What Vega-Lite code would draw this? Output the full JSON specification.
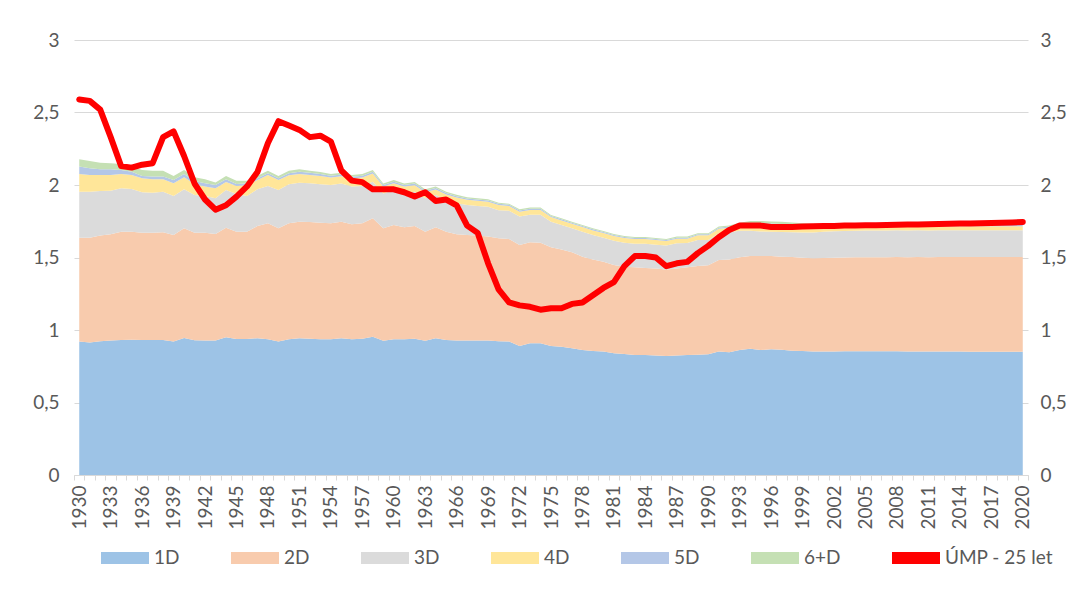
{
  "$schema": "https://vega.github.io/schema/vega-lite/v6.json",
  "width": 954,
  "height": 435,
  "autosize": {"type": "none"},
  "padding": {"left": 74, "top": 40, "right": 51, "bottom": 127},
  "background": "white",
  "config": {"font": "Lato", "view": {"stroke": null}},
  "data": {"values": [
    {"year":1930,"1D":0.920,"2D":0.717,"3D":0.317,"4D":0.122,"5D":0.051,"6+D":0.050,"ump":2.59},
    {"year":1931,"1D":0.913,"2D":0.724,"3D":0.317,"4D":0.115,"5D":0.046,"6+D":0.051,"ump":2.58},
    {"year":1932,"1D":0.922,"2D":0.729,"3D":0.308,"4D":0.110,"5D":0.039,"6+D":0.046,"ump":2.52},
    {"year":1933,"1D":0.927,"2D":0.733,"3D":0.301,"4D":0.108,"5D":0.039,"6+D":0.042,"ump":2.33},
    {"year":1934,"1D":0.931,"2D":0.747,"3D":0.299,"4D":0.099,"5D":0.028,"6+D":0.041,"ump":2.13},
    {"year":1935,"1D":0.933,"2D":0.745,"3D":0.294,"4D":0.097,"5D":0.023,"6+D":0.035,"ump":2.12},
    {"year":1936,"1D":0.931,"2D":0.740,"3D":0.279,"4D":0.096,"5D":0.016,"6+D":0.042,"ump":2.14},
    {"year":1937,"1D":0.931,"2D":0.740,"3D":0.276,"4D":0.092,"5D":0.019,"6+D":0.041,"ump":2.15},
    {"year":1938,"1D":0.931,"2D":0.743,"3D":0.280,"4D":0.085,"5D":0.019,"6+D":0.041,"ump":2.33},
    {"year":1939,"1D":0.920,"2D":0.735,"3D":0.269,"4D":0.088,"5D":0.023,"6+D":0.027,"ump":2.37},
    {"year":1940,"1D":0.945,"2D":0.756,"3D":0.269,"4D":0.083,"5D":0.023,"6+D":0.028,"ump":2.20},
    {"year":1941,"1D":0.929,"2D":0.742,"3D":0.260,"4D":0.076,"5D":0.021,"6+D":0.025,"ump":2.01},
    {"year":1942,"1D":0.927,"2D":0.744,"3D":0.253,"4D":0.065,"5D":0.023,"6+D":0.027,"ump":1.90},
    {"year":1943,"1D":0.927,"2D":0.735,"3D":0.246,"4D":0.069,"5D":0.023,"6+D":0.018,"ump":1.83},
    {"year":1944,"1D":0.950,"2D":0.756,"3D":0.260,"4D":0.055,"5D":0.018,"6+D":0.023,"ump":1.86},
    {"year":1945,"1D":0.938,"2D":0.740,"3D":0.260,"4D":0.055,"5D":0.014,"6+D":0.023,"ump":1.92},
    {"year":1946,"1D":0.938,"2D":0.740,"3D":0.246,"4D":0.076,"5D":0.012,"6+D":0.018,"ump":1.99},
    {"year":1947,"1D":0.943,"2D":0.774,"3D":0.253,"4D":0.065,"5D":0.011,"6+D":0.018,"ump":2.09},
    {"year":1948,"1D":0.936,"2D":0.800,"3D":0.257,"4D":0.076,"5D":0.012,"6+D":0.018,"ump":2.29},
    {"year":1949,"1D":0.920,"2D":0.781,"3D":0.265,"4D":0.069,"5D":0.011,"6+D":0.016,"ump":2.44},
    {"year":1950,"1D":0.936,"2D":0.800,"3D":0.269,"4D":0.062,"5D":0.014,"6+D":0.018,"ump":2.41},
    {"year":1951,"1D":0.943,"2D":0.804,"3D":0.269,"4D":0.060,"5D":0.016,"6+D":0.016,"ump":2.38},
    {"year":1952,"1D":0.940,"2D":0.805,"3D":0.267,"4D":0.057,"5D":0.016,"6+D":0.014,"ump":2.33},
    {"year":1953,"1D":0.936,"2D":0.804,"3D":0.265,"4D":0.057,"5D":0.014,"6+D":0.014,"ump":2.34},
    {"year":1954,"1D":0.936,"2D":0.800,"3D":0.264,"4D":0.052,"5D":0.012,"6+D":0.012,"ump":2.30},
    {"year":1955,"1D":0.943,"2D":0.804,"3D":0.264,"4D":0.050,"5D":0.012,"6+D":0.012,"ump":2.10},
    {"year":1956,"1D":0.936,"2D":0.793,"3D":0.260,"4D":0.056,"5D":0.012,"6+D":0.012,"ump":2.03},
    {"year":1957,"1D":0.940,"2D":0.796,"3D":0.257,"4D":0.059,"5D":0.012,"6+D":0.012,"ump":2.02},
    {"year":1958,"1D":0.954,"2D":0.816,"3D":0.253,"4D":0.056,"5D":0.012,"6+D":0.012,"ump":1.97},
    {"year":1959,"1D":0.926,"2D":0.775,"3D":0.241,"4D":0.047,"5D":0.011,"6+D":0.011,"ump":1.97},
    {"year":1960,"1D":0.936,"2D":0.788,"3D":0.242,"4D":0.046,"5D":0.011,"6+D":0.011,"ump":1.97},
    {"year":1961,"1D":0.936,"2D":0.772,"3D":0.234,"4D":0.047,"5D":0.011,"6+D":0.011,"ump":1.95},
    {"year":1962,"1D":0.940,"2D":0.777,"3D":0.237,"4D":0.045,"5D":0.011,"6+D":0.011,"ump":1.92},
    {"year":1963,"1D":0.926,"2D":0.752,"3D":0.230,"4D":0.042,"5D":0.010,"6+D":0.010,"ump":1.95},
    {"year":1964,"1D":0.943,"2D":0.765,"3D":0.223,"4D":0.038,"5D":0.010,"6+D":0.010,"ump":1.89},
    {"year":1965,"1D":0.931,"2D":0.747,"3D":0.219,"4D":0.037,"5D":0.010,"6+D":0.010,"ump":1.90},
    {"year":1966,"1D":0.927,"2D":0.733,"3D":0.214,"4D":0.040,"5D":0.009,"6+D":0.009,"ump":1.86},
    {"year":1967,"1D":0.927,"2D":0.728,"3D":0.207,"4D":0.036,"5D":0.009,"6+D":0.008,"ump":1.72},
    {"year":1968,"1D":0.927,"2D":0.724,"3D":0.205,"4D":0.036,"5D":0.008,"6+D":0.008,"ump":1.67},
    {"year":1969,"1D":0.927,"2D":0.717,"3D":0.206,"4D":0.035,"5D":0.008,"6+D":0.008,"ump":1.46},
    {"year":1970,"1D":0.922,"2D":0.710,"3D":0.194,"4D":0.036,"5D":0.008,"6+D":0.008,"ump":1.28},
    {"year":1971,"1D":0.920,"2D":0.708,"3D":0.194,"4D":0.033,"5D":0.008,"6+D":0.008,"ump":1.19},
    {"year":1972,"1D":0.890,"2D":0.696,"3D":0.197,"4D":0.033,"5D":0.008,"6+D":0.008,"ump":1.17},
    {"year":1973,"1D":0.908,"2D":0.697,"3D":0.190,"4D":0.033,"5D":0.008,"6+D":0.008,"ump":1.16},
    {"year":1974,"1D":0.908,"2D":0.694,"3D":0.193,"4D":0.033,"5D":0.008,"6+D":0.008,"ump":1.14},
    {"year":1975,"1D":0.890,"2D":0.680,"3D":0.177,"4D":0.032,"5D":0.007,"6+D":0.007,"ump":1.15},
    {"year":1976,"1D":0.885,"2D":0.671,"3D":0.168,"4D":0.032,"5D":0.007,"6+D":0.007,"ump":1.15},
    {"year":1977,"1D":0.874,"2D":0.663,"3D":0.164,"4D":0.032,"5D":0.007,"6+D":0.007,"ump":1.18},
    {"year":1978,"1D":0.862,"2D":0.644,"3D":0.172,"4D":0.032,"5D":0.007,"6+D":0.007,"ump":1.19},
    {"year":1979,"1D":0.855,"2D":0.632,"3D":0.168,"4D":0.032,"5D":0.007,"6+D":0.007,"ump":1.24},
    {"year":1980,"1D":0.851,"2D":0.620,"3D":0.166,"4D":0.032,"5D":0.007,"6+D":0.007,"ump":1.29},
    {"year":1981,"1D":0.839,"2D":0.609,"3D":0.168,"4D":0.032,"5D":0.007,"6+D":0.007,"ump":1.33},
    {"year":1982,"1D":0.834,"2D":0.603,"3D":0.165,"4D":0.032,"5D":0.007,"6+D":0.007,"ump":1.44},
    {"year":1983,"1D":0.828,"2D":0.604,"3D":0.163,"4D":0.032,"5D":0.007,"6+D":0.007,"ump":1.51},
    {"year":1984,"1D":0.828,"2D":0.600,"3D":0.167,"4D":0.032,"5D":0.007,"6+D":0.007,"ump":1.51},
    {"year":1985,"1D":0.825,"2D":0.600,"3D":0.163,"4D":0.032,"5D":0.007,"6+D":0.007,"ump":1.50},
    {"year":1986,"1D":0.821,"2D":0.597,"3D":0.164,"4D":0.032,"5D":0.007,"6+D":0.007,"ump":1.44},
    {"year":1987,"1D":0.825,"2D":0.600,"3D":0.173,"4D":0.032,"5D":0.007,"6+D":0.007,"ump":1.46},
    {"year":1988,"1D":0.828,"2D":0.604,"3D":0.168,"4D":0.030,"5D":0.007,"6+D":0.007,"ump":1.47},
    {"year":1989,"1D":0.830,"2D":0.611,"3D":0.179,"4D":0.033,"5D":0.007,"6+D":0.007,"ump":1.53},
    {"year":1990,"1D":0.832,"2D":0.614,"3D":0.174,"4D":0.033,"5D":0.007,"6+D":0.007,"ump":1.58},
    {"year":1991,"1D":0.851,"2D":0.632,"3D":0.182,"4D":0.034,"5D":0.007,"6+D":0.007,"ump":1.64},
    {"year":1992,"1D":0.846,"2D":0.641,"3D":0.188,"4D":0.031,"5D":0.007,"6+D":0.007,"ump":1.69},
    {"year":1993,"1D":0.862,"2D":0.639,"3D":0.184,"4D":0.035,"5D":0.010,"6+D":0.010,"ump":1.72},
    {"year":1994,"1D":0.871,"2D":0.639,"3D":0.175,"4D":0.039,"5D":0.013,"6+D":0.015,"ump":1.72},
    {"year":1995,"1D":0.862,"2D":0.648,"3D":0.170,"4D":0.044,"5D":0.013,"6+D":0.015,"ump":1.72},
    {"year":1996,"1D":0.867,"2D":0.643,"3D":0.168,"4D":0.043,"5D":0.013,"6+D":0.015,"ump":1.71},
    {"year":1997,"1D":0.864,"2D":0.642,"3D":0.170,"4D":0.042,"5D":0.013,"6+D":0.015,"ump":1.71},
    {"year":1998,"1D":0.857,"2D":0.646,"3D":0.171,"4D":0.040,"5D":0.014,"6+D":0.014,"ump":1.71},
    {"year":1999,"1D":0.855,"2D":0.644,"3D":0.174,"4D":0.038,"5D":0.013,"6+D":0.013,"ump":1.713},
    {"year":2000,"1D":0.851,"2D":0.643,"3D":0.178,"4D":0.036,"5D":0.012,"6+D":0.012,"ump":1.715},
    {"year":2001,"1D":0.851,"2D":0.646,"3D":0.180,"4D":0.034,"5D":0.011,"6+D":0.011,"ump":1.717},
    {"year":2002,"1D":0.852,"2D":0.647,"3D":0.182,"4D":0.033,"5D":0.010,"6+D":0.010,"ump":1.718},
    {"year":2003,"1D":0.853,"2D":0.647,"3D":0.183,"4D":0.032,"5D":0.010,"6+D":0.010,"ump":1.720},
    {"year":2004,"1D":0.853,"2D":0.648,"3D":0.184,"4D":0.031,"5D":0.009,"6+D":0.009,"ump":1.721},
    {"year":2005,"1D":0.853,"2D":0.648,"3D":0.185,"4D":0.030,"5D":0.009,"6+D":0.009,"ump":1.722},
    {"year":2006,"1D":0.853,"2D":0.649,"3D":0.185,"4D":0.029,"5D":0.008,"6+D":0.008,"ump":1.723},
    {"year":2007,"1D":0.853,"2D":0.649,"3D":0.185,"4D":0.029,"5D":0.008,"6+D":0.008,"ump":1.724},
    {"year":2008,"1D":0.853,"2D":0.650,"3D":0.185,"4D":0.029,"5D":0.008,"6+D":0.008,"ump":1.726},
    {"year":2009,"1D":0.852,"2D":0.650,"3D":0.185,"4D":0.029,"5D":0.008,"6+D":0.008,"ump":1.727},
    {"year":2010,"1D":0.852,"2D":0.651,"3D":0.185,"4D":0.028,"5D":0.008,"6+D":0.008,"ump":1.728},
    {"year":2011,"1D":0.851,"2D":0.651,"3D":0.185,"4D":0.028,"5D":0.008,"6+D":0.008,"ump":1.730},
    {"year":2012,"1D":0.851,"2D":0.652,"3D":0.185,"4D":0.028,"5D":0.008,"6+D":0.008,"ump":1.731},
    {"year":2013,"1D":0.851,"2D":0.652,"3D":0.185,"4D":0.028,"5D":0.008,"6+D":0.008,"ump":1.732},
    {"year":2014,"1D":0.851,"2D":0.652,"3D":0.185,"4D":0.028,"5D":0.008,"6+D":0.008,"ump":1.734},
    {"year":2015,"1D":0.850,"2D":0.653,"3D":0.185,"4D":0.028,"5D":0.008,"6+D":0.008,"ump":1.735},
    {"year":2016,"1D":0.850,"2D":0.653,"3D":0.185,"4D":0.028,"5D":0.008,"6+D":0.008,"ump":1.737},
    {"year":2017,"1D":0.850,"2D":0.653,"3D":0.185,"4D":0.028,"5D":0.008,"6+D":0.008,"ump":1.738},
    {"year":2018,"1D":0.850,"2D":0.653,"3D":0.185,"4D":0.028,"5D":0.008,"6+D":0.008,"ump":1.740},
    {"year":2019,"1D":0.850,"2D":0.653,"3D":0.185,"4D":0.028,"5D":0.008,"6+D":0.008,"ump":1.742},
    {"year":2020,"1D":0.850,"2D":0.653,"3D":0.185,"4D":0.028,"5D":0.008,"6+D":0.008,"ump":1.745}
  ]},
  "layer": [
    {
      "transform": [{"fold": ["1D","2D","3D","4D","5D","6+D"], "as": ["cat","v"]}],
      "mark": {"type": "area", "opacity": 1},
      "encoding": {
        "x": {
          "field": "year", "type": "ordinal", "bandPosition": 0.5,
          "scale": {"type": "band", "paddingInner": 0, "paddingOuter": 0},
          "axis": {
            "title": null, "tickBand": "extent", "labelAngle": -90, "labelOverlap": false,
            "labelExpr": "(datum.value - 1930) % 3 == 0 ? datum.label : ''",
            "labelFontSize": 19, "labelColor": "#595959", "labelPadding": 5,
            "tickColor": "#D9D9D9", "tickSize": 5, "domainColor": "#D9D9D9", "grid": false
          }
        },
        "y": {
          "field": "v", "type": "quantitative", "stack": "zero",
          "scale": {"domain": [0, 3], "nice": false},
          "axis": {
            "title": null, "values": [0, 0.5, 1, 1.5, 2, 2.5, 3],
            "labelExpr": "replace(format(datum.value, '~g'), '.', ',')",
            "domain": false, "ticks": false, "grid": true, "gridColor": "#D9D9D9",
            "labelPadding": 15, "labelFontSize": 19, "labelColor": "#595959"
          }
        },
        "order": {"field": "cat", "sort": "ascending"},
        "color": {
          "field": "cat", "type": "nominal",
          "scale": {
            "domain": ["1D","2D","3D","4D","5D","6+D","ÚMP - 25 let"],
            "range": ["#9DC3E6","#F8CBAD","#DBDBDB","#FFE699","#B4C7E7","#C5E0B4","#FF0000"]
          },
          "legend": {
            "orient": "none", "legendX": 27, "legendY": 494, "direction": "horizontal",
            "columns": 7, "columnPadding": 51, "title": null,
            "labelFontSize": 19, "labelColor": "#595959", "labelOffset": 5,
            "symbolSize": 2304, "symbolType": "M-1,-0.25H1V0.25H-1Z", "symbolStrokeWidth": 0,
            "encode": {
              "symbols": {
                "update": {
                  "shape": {"signal": "datum.value == 'ÚMP - 25 let' ? 'M-1,-0.12H1V0.12H-1Z' : 'M-1,-0.25H1V0.25H-1Z'"},
                  "fill": {"scale": "color", "field": "value"},
                  "stroke": {"value": "transparent"},
                  "opacity": {"value": 1}
                }
              }
            }
          }
        }
      }
    },
    {
      "mark": {"type": "line", "strokeWidth": 6, "strokeJoin": "round", "strokeCap": "round"},
      "encoding": {
        "x": {"field": "year", "type": "ordinal", "bandPosition": 0.5},
        "y": {
          "field": "ump", "type": "quantitative",
          "scale": {"domain": [0, 3], "nice": false},
          "axis": {
            "title": null, "orient": "right", "values": [0, 0.5, 1, 1.5, 2, 2.5, 3],
            "labelExpr": "replace(format(datum.value, '~g'), '.', ',')",
            "domain": false, "ticks": false, "grid": false,
            "labelPadding": 12, "labelFontSize": 19, "labelColor": "#595959"
          }
        },
        "color": {"datum": "ÚMP - 25 let"}
      }
    }
  ],
  "resolve": {"scale": {"y": "independent"}}
}
